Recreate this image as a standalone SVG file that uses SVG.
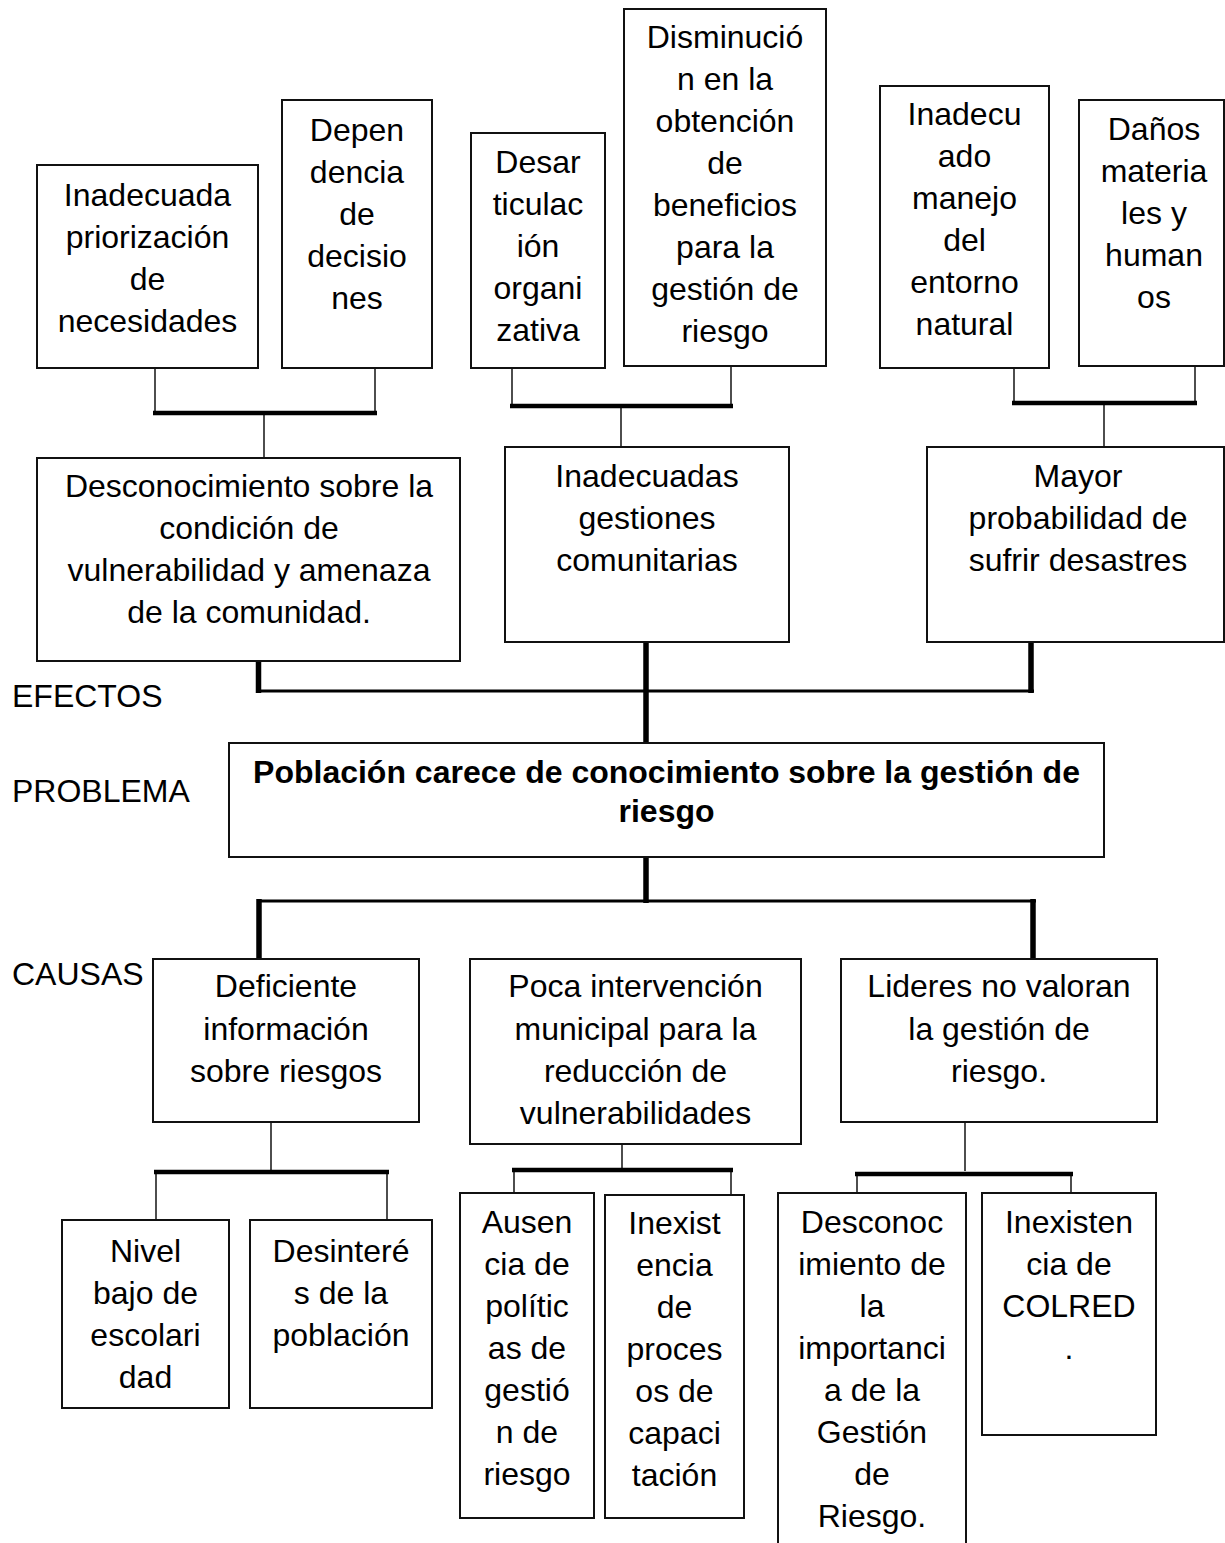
<svg xmlns="http://www.w3.org/2000/svg" width="1225" height="1543" viewBox="0 0 1225 1543">
<style>
.box{fill:#fff;stroke:#111;stroke-width:2}
.t{font-family:"Liberation Sans",Arial,sans-serif;font-size:32px;text-anchor:middle;fill:#000}
.b{font-weight:bold}
.lbl{font-family:"Liberation Sans",Arial,sans-serif;font-size:32px;fill:#000}
.thin{stroke:#222;stroke-width:1.6;fill:none}
.bar{stroke:#000;stroke-width:4.5;fill:none}
.hv{stroke:#000;stroke-width:3;fill:none}
.vv{stroke:#000;stroke-width:5.5;fill:none}
</style>
<rect width="1225" height="1543" fill="#fff"/>
<g id="connectors">
  <!-- group 1 top -->
  <path class="thin" d="M155,368V411M375,368V411M264,415V458"/>
  <path class="bar" d="M153,413H377"/>
  <!-- group 2 top -->
  <path class="thin" d="M512,368V404M731,366V404M621,408V447"/>
  <path class="bar" d="M510,406H733"/>
  <!-- group 3 top -->
  <path class="thin" d="M1014,368V401M1195,366V401M1104,405V447"/>
  <path class="bar" d="M1012,403H1197"/>
  <!-- effects to problem -->
  <path class="hv" d="M256,691H1034"/>
  <path class="vv" d="M258.5,661V693M1031,642V693M646,642V743"/>
  <!-- problem to causes -->
  <path class="hv" d="M257,901H1036"/>
  <path class="vv" d="M646,857V903M259,899V959M1033,899V959"/>
  <!-- cause 1 -->
  <path class="thin" d="M271,1122V1170M156,1174V1220M387,1174V1220"/>
  <path class="bar" d="M154,1172H389"/>
  <!-- cause 2 -->
  <path class="thin" d="M622,1144V1168M514,1172V1193M731,1172V1195"/>
  <path class="bar" d="M512,1170H733"/>
  <!-- cause 3 -->
  <path class="thin" d="M965,1122V1171M857,1176V1193M1071,1176V1193"/>
  <path class="bar" d="M855,1174H1073"/>
</g>
<g id="labels">
  <text class="lbl" x="12" y="707">EFECTOS</text>
  <text class="lbl" x="12" y="802">PROBLEMA</text>
  <text class="lbl" x="12" y="985">CAUSAS</text>
</g>
<g id="n-priorizacion">
  <rect class="box" x="37" y="165" width="221" height="203"/>
  <text class="t"><tspan x="147.5" y="206">Inadecuada</tspan><tspan x="147.5" y="248">priorización</tspan><tspan x="147.5" y="290">de</tspan><tspan x="147.5" y="332">necesidades</tspan></text>
</g>
<g id="n-dependencia">
  <rect class="box" x="282" y="100" width="150" height="268"/>
  <text class="t"><tspan x="357" y="141">Depen</tspan><tspan x="357" y="183">dencia</tspan><tspan x="357" y="225">de</tspan><tspan x="357" y="267">decisio</tspan><tspan x="357" y="309">nes</tspan></text>
</g>
<g id="n-desarticulacion">
  <rect class="box" x="471" y="133" width="134" height="235"/>
  <text class="t"><tspan x="538" y="173">Desar</tspan><tspan x="538" y="215">ticulac</tspan><tspan x="538" y="257">ión</tspan><tspan x="538" y="299">organi</tspan><tspan x="538" y="341">zativa</tspan></text>
</g>
<g id="n-disminucion">
  <rect class="box" x="624" y="9" width="202" height="357"/>
  <text class="t"><tspan x="725" y="48">Disminució</tspan><tspan x="725" y="90">n en la</tspan><tspan x="725" y="132">obtención</tspan><tspan x="725" y="174">de</tspan><tspan x="725" y="216">beneficios</tspan><tspan x="725" y="258">para la</tspan><tspan x="725" y="300">gestión de</tspan><tspan x="725" y="342">riesgo</tspan></text>
</g>
<g id="n-manejo">
  <rect class="box" x="880" y="86" width="169" height="282"/>
  <text class="t"><tspan x="964.5" y="125">Inadecu</tspan><tspan x="964.5" y="167">ado</tspan><tspan x="964.5" y="209">manejo</tspan><tspan x="964.5" y="251">del</tspan><tspan x="964.5" y="293">entorno</tspan><tspan x="964.5" y="335">natural</tspan></text>
</g>
<g id="n-danos">
  <rect class="box" x="1079" y="100" width="145" height="266"/>
  <text class="t"><tspan x="1154" y="140">Daños</tspan><tspan x="1154" y="182">materia</tspan><tspan x="1154" y="224">les y</tspan><tspan x="1154" y="266">human</tspan><tspan x="1154" y="308">os</tspan></text>
</g>
<g id="n-desconocimiento">
  <rect class="box" x="37" y="458" width="423" height="203"/>
  <text class="t"><tspan x="249" y="497">Desconocimiento sobre la</tspan><tspan x="249" y="539">condición de</tspan><tspan x="249" y="581">vulnerabilidad y amenaza</tspan><tspan x="249" y="623">de la comunidad.</tspan></text>
</g>
<g id="n-gestiones">
  <rect class="box" x="505" y="447" width="284" height="195"/>
  <text class="t"><tspan x="647" y="487">Inadecuadas</tspan><tspan x="647" y="529">gestiones</tspan><tspan x="647" y="571">comunitarias</tspan></text>
</g>
<g id="n-mayor">
  <rect class="box" x="927" y="447" width="297" height="195"/>
  <text class="t"><tspan x="1078" y="487">Mayor</tspan><tspan x="1078" y="529">probabilidad de</tspan><tspan x="1078" y="571">sufrir desastres</tspan></text>
</g>
<g id="n-problema">
  <rect class="box" x="229" y="743" width="875" height="114"/>
  <text class="t b"><tspan x="666.5" y="783">Población carece de conocimiento sobre la gestión de</tspan><tspan x="666.5" y="822">riesgo</tspan></text>
</g>
<g id="n-deficiente">
  <rect class="box" x="153" y="959" width="266" height="163"/>
  <text class="t"><tspan x="286" y="997">Deficiente</tspan><tspan x="286" y="1040">información</tspan><tspan x="286" y="1082">sobre riesgos</tspan></text>
</g>
<g id="n-poca">
  <rect class="box" x="470" y="959" width="331" height="185"/>
  <text class="t"><tspan x="635.5" y="997">Poca intervención</tspan><tspan x="635.5" y="1040">municipal para la</tspan><tspan x="635.5" y="1082">reducción de</tspan><tspan x="635.5" y="1124">vulnerabilidades</tspan></text>
</g>
<g id="n-lideres">
  <rect class="box" x="841" y="959" width="316" height="163"/>
  <text class="t"><tspan x="999" y="997">Lideres no valoran</tspan><tspan x="999" y="1040">la gestión de</tspan><tspan x="999" y="1082">riesgo.</tspan></text>
</g>
<g id="n-nivel">
  <rect class="box" x="62" y="1220" width="167" height="188"/>
  <text class="t"><tspan x="145.5" y="1262">Nivel</tspan><tspan x="145.5" y="1304">bajo de</tspan><tspan x="145.5" y="1346">escolari</tspan><tspan x="145.5" y="1388">dad</tspan></text>
</g>
<g id="n-desinteres">
  <rect class="box" x="250" y="1220" width="182" height="188"/>
  <text class="t"><tspan x="341" y="1262">Desinteré</tspan><tspan x="341" y="1304">s de la</tspan><tspan x="341" y="1346">población</tspan></text>
</g>
<g id="n-ausencia">
  <rect class="box" x="460" y="1193" width="134" height="325"/>
  <text class="t"><tspan x="527" y="1233">Ausen</tspan><tspan x="527" y="1275">cia de</tspan><tspan x="527" y="1317">polític</tspan><tspan x="527" y="1359">as de</tspan><tspan x="527" y="1401">gestió</tspan><tspan x="527" y="1443">n de</tspan><tspan x="527" y="1485">riesgo</tspan></text>
</g>
<g id="n-procesos">
  <rect class="box" x="605" y="1195" width="139" height="323"/>
  <text class="t"><tspan x="674.5" y="1234">Inexist</tspan><tspan x="674.5" y="1276">encia</tspan><tspan x="674.5" y="1318">de</tspan><tspan x="674.5" y="1360">proces</tspan><tspan x="674.5" y="1402">os de</tspan><tspan x="674.5" y="1444">capaci</tspan><tspan x="674.5" y="1486">tación</tspan></text>
</g>
<g id="n-importancia">
  <rect class="box" x="778" y="1193" width="188" height="370"/>
  <text class="t"><tspan x="872" y="1233">Desconoc</tspan><tspan x="872" y="1275">imiento de</tspan><tspan x="872" y="1317">la</tspan><tspan x="872" y="1359">importanci</tspan><tspan x="872" y="1401">a de la</tspan><tspan x="872" y="1443">Gestión</tspan><tspan x="872" y="1485">de</tspan><tspan x="872" y="1527">Riesgo.</tspan></text>
</g>
<g id="n-colred">
  <rect class="box" x="982" y="1193" width="174" height="242"/>
  <text class="t"><tspan x="1069" y="1233">Inexisten</tspan><tspan x="1069" y="1275">cia de</tspan><tspan x="1069" y="1317">COLRED</tspan><tspan x="1069" y="1359">.</tspan></text>
</g>
</svg>
